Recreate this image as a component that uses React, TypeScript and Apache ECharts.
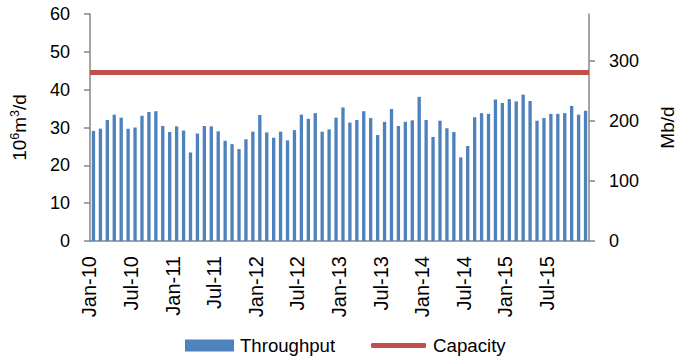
import React, { useEffect, useRef } from "react";
import * as echarts from "echarts";

const years = ["10", "11", "12", "13", "14", "15"];
const monthNames = ["Jan", "Feb", "Mar", "Apr", "May", "Jun", "Jul", "Aug", "Sep", "Oct", "Nov", "Dec"];
const categories: string[] = [];
years.forEach((y) => monthNames.forEach((m) => categories.push(`${m}-${y}`)));

const throughput2010 = [29.1, 29.7, 32.0, 33.4, 32.6, 29.7, 30.0, 33.1, 34.1, 34.3, 30.4, 28.8];
const throughput2011 = [30.3, 29.2, 23.4, 28.4, 30.4, 30.3, 29.0, 26.5, 25.6, 24.3, 26.9, 28.9];
const throughput2012 = [33.3, 28.7, 27.3, 28.9, 26.6, 29.3, 33.4, 32.3, 33.8, 28.9, 29.5, 32.6];
const throughput2013 = [35.3, 31.3, 32.0, 34.3, 32.5, 28.0, 31.5, 34.9, 30.4, 31.5, 31.9, 38.1];
const throughput2014 = [32.0, 27.5, 31.8, 29.8, 28.8, 22.1, 25.1, 32.7, 33.8, 33.6, 37.4, 36.5];
const throughput2015 = [37.5, 36.9, 38.7, 37.0, 31.8, 32.5, 33.6, 33.6, 33.8, 35.7, 33.4, 34.4];
const throughput = [
  ...throughput2010, ...throughput2011, ...throughput2012,
  ...throughput2013, ...throughput2014, ...throughput2015,
];
const capacity = [44.5];
const leftTicks = [0, 10, 20, 30, 40, 50, 60];
const rightTicks = [0, 100, 200, 300];
const mbPerMcm = 6.29;

const FONT = "Liberation Sans, Arial, sans-serif";
const AXIS = "#868686";

export default function App() {
  const ref = useRef<HTMLDivElement>(null);
  useEffect(() => {
    if (!ref.current) return;
    document.body.style.margin = "0";
    const chart = echarts.init(ref.current, undefined, { renderer: "svg" });
    const leftMax = leftTicks[leftTicks.length - 1];
    chart.setOption({
      animation: false,
      textStyle: { fontFamily: FONT },
      grid: { left: 88, right: 90, top: 14, bottom: 119, containLabel: false },
      legend: [
        {
          data: [{ name: "Throughput", icon: "rect" }],
          left: 185,
          top: 336,
          padding: 0,
          itemWidth: 49,
          itemHeight: 12,
          itemGap: 0,
          textStyle: { fontSize: 18.6, color: "#000", fontFamily: FONT, padding: [0, 0, 0, 1] },
        },
        {
          data: [{ name: "Capacity", icon: "roundRect" }],
          left: 371,
          top: 336,
          padding: 0,
          itemWidth: 55,
          itemHeight: 5,
          textStyle: { fontSize: 18.7, color: "#000", fontFamily: FONT, padding: [0, 0, 0, 2] },
        },
      ],
      xAxis: {
        type: "category",
        data: categories,
        boundaryGap: true,
        axisLine: { lineStyle: { color: AXIS, width: 1.5 } },
        axisTick: { interval: 5, length: 6, lineStyle: { color: AXIS, width: 1.5 } },
        axisLabel: {
          interval: 5,
          rotate: 90,
          margin: 15,
          fontSize: 20,
          color: "#000",
          fontFamily: FONT,
          verticalAlign: "bottom",
          lineHeight: 8,
        },
      },
      yAxis: [
        {
          type: "value",
          min: 0,
          max: leftMax,
          interval: 10,
          name: "{a|10}{b|6}{a|m}{b|3}{a|/d}",
          nameLocation: "middle",
          nameGap: 60,
          nameRotate: 90,
          nameTextStyle: {
            fontFamily: FONT,
            color: "#000",
            rich: {
              a: { fontSize: 19, color: "#000", fontFamily: FONT, lineHeight: 22 },
              b: { fontSize: 12.5, color: "#000", fontFamily: FONT, verticalAlign: "top", lineHeight: 14 },
            },
          },
          axisLine: { show: true, lineStyle: { color: AXIS, width: 1.5 } },
          axisTick: { show: true, length: 6, lineStyle: { color: AXIS, width: 1.5 } },
          axisLabel: { margin: 20, fontSize: 18, color: "#000", fontFamily: FONT },
          splitLine: { show: false },
        },
        {
          type: "value",
          min: 0,
          max: leftMax * mbPerMcm,
          interval: 100,
          position: "right",
          name: "Mb/d",
          nameLocation: "middle",
          nameGap: 69,
          nameRotate: 90,
          nameTextStyle: { fontSize: 19, color: "#000", fontFamily: FONT },
          axisLine: { show: true, lineStyle: { color: AXIS, width: 1.5 } },
          axisTick: { show: true, length: 6, customValues: rightTicks, lineStyle: { color: AXIS, width: 1.5 } },
          axisLabel: {
            margin: 20,
            fontSize: 18,
            color: "#000",
            fontFamily: FONT,
            customValues: rightTicks,
            formatter: (v: number) => (rightTicks.includes(Math.round(v * 1000) / 1000) ? String(v) : ""),
          },
          splitLine: { show: false },
        },
      ],
      series: [
        {
          name: "Throughput",
          type: "bar",
          data: throughput,
          barWidth: "48%",
          itemStyle: { color: "#4f81bd" },
          yAxisIndex: 0,
        },
        {
          name: "Capacity",
          type: "line",
          data: [],
          yAxisIndex: 0,
          itemStyle: { color: "#c0504d" },
          lineStyle: { color: "#c0504d", width: 5 },
          markLine: {
            symbol: "none",
            silent: true,
            label: { show: false },
            lineStyle: { color: "#c0504d", width: 5, type: "solid" },
            data: capacity.map((c) => ({ yAxis: c })),
          },
        },
      ],
    });
    return () => chart.dispose();
  }, []);
  return <div ref={ref} style={{ width: 685, height: 360 }} />;
}
